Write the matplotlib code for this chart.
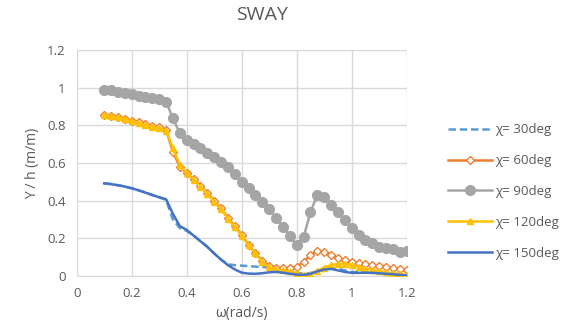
import numpy as np
import matplotlib
matplotlib.use('Agg')
import matplotlib.pyplot as plt

plt.rcParams.update({
    'font.family': ['Open Sans', 'DejaVu Sans'],
    'font.size': 9.5,
})

TXT = '#595959'
GRID = '#D9D9D9'

omega = [0.1, 0.125, 0.15, 0.175, 0.2, 0.225, 0.25, 0.275, 0.3, 0.325,
         0.35, 0.375, 0.4, 0.425, 0.45, 0.475, 0.5, 0.525, 0.55, 0.575,
         0.6, 0.625, 0.65, 0.675, 0.7, 0.725, 0.75, 0.775, 0.8, 0.825,
         0.85, 0.875, 0.9, 0.925, 0.95, 0.975, 1.0, 1.025, 1.05, 1.075,
         1.1, 1.125, 1.15, 1.175, 1.2]

chi30 = [0.492, 0.488, 0.482, 0.475, 0.466, 0.455, 0.443, 0.43, 0.418, 0.405,
         0.30, 0.255, 0.24, 0.215, 0.185, 0.155, 0.12, 0.087, 0.062, 0.058,
         0.055, 0.053, 0.05, 0.048, 0.046, 0.042, 0.035, 0.025, 0.018, 0.012,
         0.015, 0.025, 0.038, 0.042, 0.04, 0.03, 0.022, 0.02, 0.02, 0.018,
         0.016, 0.014, 0.012, 0.011, 0.01]
chi60 = [0.855, 0.85, 0.845, 0.835, 0.825, 0.815, 0.805, 0.795, 0.79, 0.775,
         0.66, 0.58, 0.545, 0.515, 0.48, 0.44, 0.40, 0.36, 0.31, 0.265,
         0.22, 0.165, 0.12, 0.08, 0.055, 0.045, 0.042, 0.042, 0.05, 0.075,
         0.11, 0.135, 0.13, 0.11, 0.095, 0.085, 0.075, 0.068, 0.062, 0.057,
         0.052, 0.047, 0.042, 0.037, 0.03]
chi90 = [0.99, 0.985, 0.978, 0.97, 0.965, 0.958, 0.95, 0.945, 0.94, 0.926,
         0.837, 0.758, 0.722, 0.70, 0.678, 0.655, 0.634, 0.607, 0.58, 0.54,
         0.50, 0.466, 0.43, 0.395, 0.354, 0.306, 0.262, 0.212, 0.165, 0.205,
         0.34, 0.43, 0.42, 0.377, 0.342, 0.297, 0.253, 0.218, 0.191, 0.174,
         0.156, 0.147, 0.142, 0.129, 0.134]
chi120 = [0.855, 0.848, 0.842, 0.833, 0.822, 0.812, 0.802, 0.792, 0.785, 0.77,
          0.68, 0.59, 0.545, 0.51, 0.475, 0.435, 0.395, 0.355, 0.305, 0.26,
          0.215, 0.165, 0.12, 0.075, 0.048, 0.035, 0.03, 0.025, 0.015, 0.008,
          0.01, 0.028, 0.045, 0.058, 0.065, 0.065, 0.06, 0.05, 0.04, 0.032,
          0.026, 0.02, 0.015, 0.01, 0.006]
chi150 = [0.492, 0.488, 0.482, 0.475, 0.466, 0.455, 0.443, 0.43, 0.418, 0.408,
          0.33, 0.265, 0.245, 0.215, 0.185, 0.155, 0.12, 0.087, 0.058, 0.035,
          0.018, 0.013, 0.012, 0.015, 0.02, 0.022, 0.018, 0.012, 0.008, 0.006,
          0.012, 0.025, 0.035, 0.038, 0.03, 0.022, 0.017, 0.017, 0.018, 0.017,
          0.015, 0.012, 0.01, 0.006, 0.003]

labels = ['χ= 30deg', 'χ= 60deg', 'χ= 90deg', 'χ= 120deg', 'χ= 150deg']

fig = plt.figure(figsize=(5.68, 3.33), dpi=100)
ax = fig.add_axes([0.135, 0.171, 0.581, 0.679])

ax.plot(omega, chi30, color='#5B9BD5', lw=1.8, ls=(0, (3, 1.5)), label=labels[0], zorder=3)
ax.plot(omega, chi60, color='#ED7D31', lw=1.8, marker='D', ms=4.5, mfc='white',
        mec='#ED7D31', mew=1.0, label=labels[1], zorder=4)
ax.plot(omega, chi90, color='#A5A5A5', lw=1.8, marker='o', ms=7, label=labels[2], zorder=2)
ax.plot(omega, chi120, color='#FFC000', lw=1.8, marker='^', ms=4, label=labels[3], zorder=5)
ax.plot(omega, chi150, color='#4472C4', lw=1.8, label=labels[4], zorder=6)

ax.set_xlim(0, 1.2)
ax.set_ylim(0, 1.2)
ax.set_xticks(np.arange(0, 1.21, 0.2))
ax.set_yticks(np.arange(0, 1.21, 0.2))
ax.set_xticklabels(['0', '0.2', '0.4', '0.6', '0.8', '1', '1.2'])
ax.set_yticklabels(['0', '0.2', '0.4', '0.6', '0.8', '1', '1.2'])
ax.grid(True, color=GRID, lw=1.0)
ax.set_axisbelow(True)
for s in ax.spines.values():
    s.set_visible(False)
ax.spines['bottom'].set_visible(True)
ax.spines['bottom'].set_color(GRID)
ax.tick_params(length=0, colors=TXT, labelsize=9.5, pad=8)

ax.set_xlabel('ω(rad/s)', color=TXT, fontsize=10, labelpad=4)
ax.set_ylabel('Y / h (m/m)', color=TXT, fontsize=10, labelpad=5)
fig.text(0.461, 0.955, 'SWAY', ha='center', va='center', fontsize=14, color=TXT)

leg = fig.legend(loc='center left', bbox_to_anchor=(0.768, 0.425), frameon=False,
                 handlelength=3.3, labelspacing=1.35, handletextpad=0.3,
                 fontsize=9.5, numpoints=1)
for t in leg.get_texts():
    t.set_color(TXT)

fig.savefig('out.png', dpi=100)
